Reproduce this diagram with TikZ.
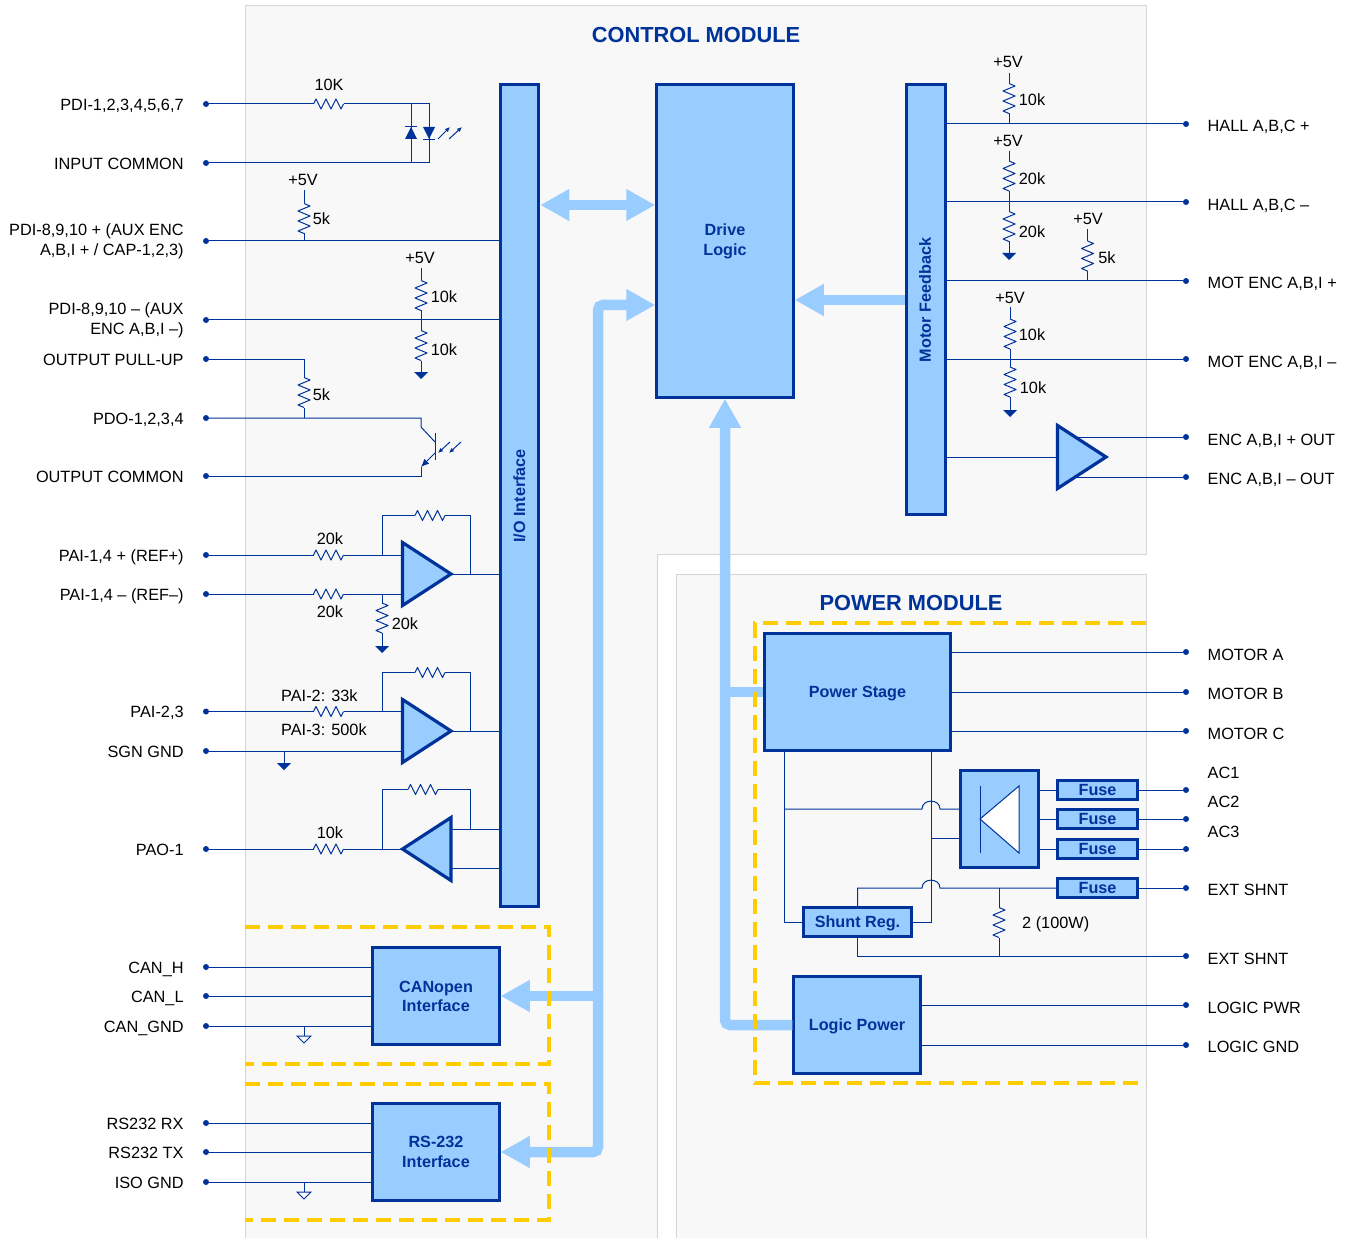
\documentclass[tikz,border=0pt]{standalone}
\usepackage{fontspec}
\setmainfont{Liberation Sans}
\usetikzlibrary{arrows.meta,shapes.geometric}
\definecolor{wireblue}{HTML}{003399}
\definecolor{busblue}{HTML}{99CCFF}
\definecolor{dashyellow}{HTML}{FFCC00}
\definecolor{modbg}{HTML}{F8F8F8}
\definecolor{modedge}{HTML}{D4D4D4}
\tikzset{
    wire/.style={draw=wireblue,line width=1pt},
    pin/.style={circle,fill=wireblue,inner sep=0pt,minimum size=6pt},
    val/.style={inner sep=0pt,yshift=-.3pt},
    pinlab/.style={val,anchor=mid east,yshift=-3.3pt},
    rpinlab/.style={val,anchor=mid west,yshift=-3.3pt},
    blockbox/.style={draw=wireblue,fill=busblue,line width=3pt,text=wireblue,font=\fontsize{16.2}{19.5}\selectfont\bfseries,align=center,inner sep=0pt},
    onebox/.style={text height=12.5pt,text depth=2.5pt},
    title/.style={text=wireblue,font=\fontsize{21.8}{26}\selectfont\bfseries,yshift=-.3pt},
    amp/.style={isosceles triangle,isosceles triangle stretches,draw=wireblue,fill=busblue,line width=3.2pt,inner sep=0pt,outer sep=0pt,minimum width=63pt,minimum height=48.5pt,anchor=apex},
    bus/.style={draw=busblue,line width=10.5pt,rounded corners=5pt},
    bigtip/.tip={Triangle[length=29pt,width=30pt]},
    dashbox/.style={draw=dashyellow,line width=3.1pt,dash pattern=on 15pt off 8pt},
    modarea/.style={fill=modbg,draw=modedge,line width=1pt},
    photon/.style={wire,-{Latex[length=5pt,width=4.5pt]}},
    resh/.pic={\draw[wire,line join=round] (-15,0) coordinate (-a) -- (-12.5,-5) -- (-7.5,5) -- (-2.5,-5) -- (2.5,5) -- (7.5,-5) -- (12.5,5) -- (15,0) coordinate (-b);},
    resv/.pic={\draw[wire,line join=round] (0,-15) coordinate (-a) -- (6,-12.5) -- (-6,-7.5) -- (6,-2.5) -- (-6,2.5) -- (6,7.5) -- (-6,12.5) -- (0,15) coordinate (-b);},
    gndf/.pic={\coordinate (-a) at (0,0); \fill[wireblue] (-7,0) -- (7,0) -- (0,7) -- cycle;},
    gndo/.pic={\coordinate (-a) at (0,0); \draw[wire] (-7,0) -- (7,0) -- (0,7) -- cycle;},
    diodeup/.pic={\fill[wireblue] (-6,6) -- (6,6) -- (0,-6) -- cycle; \draw[wire] (-6,-6) -- (6,-6);},
    diodedn/.pic={\fill[wireblue] (-6,-6) -- (6,-6) -- (0,6) -- cycle; \draw[wire] (-6,7) -- (6,7);},
}
\begin{document}
\begin{tikzpicture}[x=1pt,y=-1pt,every node/.append style={font=\fontsize{16.3}{19.5}\selectfont,text=black}]
    \useasboundingbox (0,0) rectangle (1351,1238);
    \fill[white] (0,0) rectangle (1351,1238);
    \draw[modarea] (245,1238) -- (245,6) -- (1146,6) -- (1146,554) -- (657,554) -- (657,1238);
    \draw[modarea] (676,1238) -- (676,574) -- (1146,574) -- (1146,1238);

    \node (ctltitle) at (696,34.5) [title] {CONTROL MODULE};
    \node (pwrtitle) at (911,602.5) [title] {POWER MODULE};

    % blocks
    \node (io) at (519.5,495.5) [blockbox,minimum width=38.5,minimum height=821.5] {};
    \node (iolab) at (519.5,496) [rotate=90,text=wireblue,font=\fontsize{16.2}{19.5}\selectfont\bfseries] {I/O Interface};
    \node (drive) at (725,241) [blockbox,minimum width=136.5,minimum height=312.5] {Drive\\[.6pt]Logic};
    \node (mf) at (926,299.5) [blockbox,minimum width=38.5,minimum height=429.5] {};
    \node (mflab) at (925,300) [rotate=90,text=wireblue,font=\fontsize{16.2}{19.5}\selectfont\bfseries] {Motor Feedback};
    \node (can) at (436,996) [blockbox,minimum width=126.5,minimum height=96.5] {CANopen\\[-.4pt]Interface};
    \node (rs) at (436,1152) [blockbox,minimum width=126.5,minimum height=96.5] {RS-232\\Interface};
    \node (power) at (857.5,692) [blockbox,onebox,minimum width=185.5,minimum height=116.5] {Power Stage};
    \node (logicp) at (857,1025) [blockbox,onebox,minimum width=126.5,minimum height=96.5] {Logic Power};
    \node (bridge) at (999.5,819) [blockbox,minimum width=77.5,minimum height=96.5] {};
    \node (fua) at (1097.5,790) [blockbox,onebox,minimum width=79.5,minimum height=19.5] {Fuse};
    \node (fub) at (1097.5,819) [blockbox,onebox,minimum width=79.5,minimum height=19.5] {Fuse};
    \node (fuc) at (1097.5,849) [blockbox,onebox,minimum width=79.5,minimum height=19.5] {Fuse};
    \node (fud) at (1097.5,888) [blockbox,onebox,minimum width=79.5,minimum height=19.5] {Fuse};
    \node (shunt) at (857.5,922) [blockbox,onebox,minimum width=107.5,minimum height=28.5] {Shunt Reg.};

    % buses
    \coordinate (busa) at (598,205);
    \coordinate (busb) at (598,305);
    \coordinate (busc) at (850,300);
    \draw[bus,{bigtip}-{bigtip}] (io.east |- busa) -- (drive.west |- busa);
    \draw[bus,{bigtip}-{bigtip}] (rs.east) -- (busb |- rs.east) -- (busb) -- (drive.west |- busb);
    \draw[bus,{bigtip}-] (can.east) -- (busb |- can.east);
    \draw[bus,{bigtip}-] (drive.east |- busc) -- (mf.west |- busc);
    \draw[bus,{bigtip}-] (drive.south) -- (drive.south |- logicp.west) -- (logicp.west);
    \draw[bus] (drive.south |- power.west) -- (power.west);

    % dashed groups
    \draw[dashbox] (245,927) -- (549,927) -- (549,1064) -- (245,1064);
    \draw[dashbox] (245,1084) -- (549,1084) -- (549,1220) -- (245,1220);
    \draw[dashbox] (1146,623) -- (755,623) -- (755,1083) -- (1146,1083);

    % left pins
    \foreach \nm/\yy/\txt in {pdia/104/{PDI-1,2,3,4,5,6,7},incom/163/INPUT COMMON,pullup/359/OUTPUT PULL-UP,pdo/418/{PDO-1,2,3,4},outcom/476/OUTPUT COMMON,paip/555/{PAI-1,4 + (REF+)},paim/594/{PAI-1,4 – (REF–)},paib/711.5/{PAI-2,3},sgn/751/SGN GND,pao/849/PAO-1,canh/967/CAN\_H,canl/996/CAN\_L,cang/1026/CAN\_GND,rsrx/1123/RS232 RX,rstx/1152/RS232 TX,isog/1182/ISO GND}{
        \node (\nm) at (206,\yy) [pin] {};
        \node (\nm lab) at (183.8,\yy) [pinlab] {\txt};
    }
    \node (pdib) at (206,241) [pin] {};
    \node (pdiblab) at (183.8,241) [val,anchor=east,align=right] {PDI-8,9,10 + (AUX ENC\\A,B,I + / CAP-1,2,3)};
    \node (pdic) at (206,320) [pin] {};
    \node (pdiclab) at (183.8,320) [val,anchor=east,align=right] {PDI-8,9,10 – (AUX\\ENC A,B,I –)};

    % right pins
    \foreach \nm/\yy/\ly/\txt in {hallp/124/125/{HALL A,B,C +},hallm/202/204/{HALL A,B,C –},mencp/281/282/{MOT ENC A,B,I +},mencm/359/361/{MOT ENC A,B,I –},encp/437/439/{ENC A,B,I + OUT},encm/477/478/{ENC A,B,I – OUT},mota/652/654/MOTOR A,motb/692/693/MOTOR B,motc/731/733/MOTOR C,aca/790/772/AC1,acb/819/801/AC2,acc/849/831/AC3,shnta/888/889/EXT SHNT,shntb/956/958/EXT SHNT,lpwr/1005/1007/LOGIC PWR,lgnd/1045/1046/LOGIC GND}{
        \node (\nm) at (1186,\yy) [pin] {};
        \node (\nm lab) at (1207.5,\ly) [rpinlab] {\txt};
    }

    % optocoupler in
    \coordinate (ledl) at (411,104);
    \coordinate (ledr) at (429,104);
    \pic (ra) at (328.5,104) {resh};
    \node (ratxt) at (329,85) [val] {10K};
    \draw[wire] (pdia) -- (ra-a) (ra-b) -- (ledr) -- (ledr |- incom) -- (incom);
    \draw[wire] (ledl) -- (ledl |- incom);
    \pic at (411,133) {diodeup};
    \pic at (429,133) {diodedn};
    \coordinate (lda) at (438,139);
    \coordinate (ldb) at (450,127);
    \coordinate (ldc) at (449,139);
    \coordinate (ldd) at (462,127);
    \draw[photon] (lda) -- (ldb);
    \draw[photon] (ldc) -- (ldd);

    % pull-ups on io side
    \pic (rb) at (304,218.5) {resv};
    \node (rbv) at (303,179.5) [val] {+5V};
    \node (rbtxt) at (321.5,218) [val] {5k};
    \coordinate (rbt) at (304,190);
    \draw[wire] (pdib) -- (pdib -| io.west);
    \draw[wire] (rbt) -- (rb-a) (rb-b) -- (rb-b |- pdib);

    \pic (rc) at (421,295.5) {resv};
    \pic (rd) at (421,345.5) {resv};
    \pic (gc) at (421,372) {gndf};
    \node (rcv) at (420,258) [val] {+5V};
    \node (rctxt) at (444,296) [val] {10k};
    \node (rdtxt) at (444,349) [val] {10k};
    \coordinate (rct) at (421,268);
    \draw[wire] (pdic) -- (pdic -| io.west);
    \draw[wire] (rct) -- (rc-a) (rc-b) -- (rd-a) (rd-b) -- (gc-a);

    % phototransistor
    \pic (re) at (304,392.5) {resv};
    \node (retxt) at (321.5,394) [val] {5k};
    \coordinate (qc) at (421,427);
    \coordinate (qb) at (435,442);
    \coordinate (qd) at (435,453);
    \coordinate (qe) at (421,467);
    \coordinate (qta) at (435,433);
    \coordinate (qtb) at (435,460);
    \coordinate (pha) at (450,442);
    \coordinate (phb) at (438,453);
    \coordinate (phc) at (461,442);
    \coordinate (phd) at (449,453);
    \draw[wire] (pullup) -- (pullup -| re-a) -- (re-a) (re-b) -- (re-b |- pdo);
    \draw[wire] (pdo) -- (pdo -| qc) -- (qc) -- (qb);
    \draw[wire] (qta) -- (qtb);
    \draw[wire,-{Latex[length=8pt,width=7pt]}] (qd) -- (qe);
    \draw[wire] (qe) -- (qe |- outcom) -- (outcom);
    \draw[photon] (pha) -- (phb);
    \draw[photon] (phc) -- (phd);

    % first amplifier
    \node (ampa) at (451,574) [amp] {};
    \pic (rf) at (328.5,555) {resh};
    \pic (rg) at (328.5,594) {resh};
    \pic (rh) at (430,515.5) {resh};
    \pic (ri) at (382,618) {resv};
    \pic (gi) at (382,646) {gndf};
    \node (rftxt) at (330,538) [val] {20k};
    \node (rgtxt) at (330,611) [val] {20k};
    \node (ritxt) at (405,623) [val] {20k};
    \coordinate (fba) at (382,555);
    \coordinate (fbb) at (470.5,574);
    \draw[wire] (paip) -- (rf-a) (rf-b) -- (paip -| ampa.lower side);
    \draw[wire] (paim) -- (rg-a) (rg-b) -- (paim -| ampa.lower side);
    \draw[wire] (fba) -- (fba |- rh-a) -- (rh-a) (rh-b) -- (fbb |- rh-b) -- (fbb);
    \draw[wire] (ampa.apex) -- (ampa.apex -| io.west);
    \draw[wire] (paim -| ri-a) -- (ri-a) (ri-b) -- (gi-a);

    % second amplifier
    \node (ampb) at (451,731) [amp] {};
    \pic (rj) at (328.5,711.5) {resh};
    \pic (rk) at (430,672.5) {resh};
    \pic (gk) at (284,763) {gndf};
    \node (rjtxt) at (281,695) [val,anchor=west] {PAI-2: 33k};
    \node (rjtxb) at (281,729) [val,anchor=west] {PAI-3: 500k};
    \coordinate (fbc) at (382,711.5);
    \coordinate (fbd) at (470.5,731);
    \draw[wire] (paib) -- (rj-a) (rj-b) -- (rj-b -| ampb.lower side);
    \draw[wire] (sgn) -- (sgn -| ampb.lower side);
    \draw[wire] (fbc) -- (fbc |- rk-a) -- (rk-a) (rk-b) -- (fbd |- rk-b) -- (fbd);
    \draw[wire] (ampb.apex) -- (ampb.apex -| io.west);
    \draw[wire] (gk-a |- sgn) -- (gk-a);

    % output amplifier
    \node (ampc) at (402.5,849) [amp,shape border rotate=180] {};
    \pic (rl) at (328.5,849) {resh};
    \pic (rm) at (423,789.5) {resh};
    \node (rltxt) at (330,832) [val] {10k};
    \coordinate (fbe) at (382,849);
    \coordinate (fbf) at (470.5,829);
    \coordinate (fbg) at (470.5,868);
    \draw[wire] (pao) -- (rl-a) (rl-b) -- (ampc.apex);
    \draw[wire] (fbe) -- (fbe |- rm-a) -- (rm-a) (rm-b) -- (fbf |- rm-b) -- (fbf);
    \draw[wire] (fbf -| ampc.lower side) -- (fbf -| io.west);
    \draw[wire] (fbg -| ampc.lower side) -- (fbg -| io.west);

    % can and rs232 wires
    \pic (gn) at (304,1036) {gndo};
    \pic (gp) at (304,1192) {gndo};
    \draw[wire] (canh) -- (canh -| can.west);
    \draw[wire] (canl) -- (canl -| can.west);
    \draw[wire] (cang) -- (cang -| can.west);
    \draw[wire] (gn-a |- cang) -- (gn-a);
    \draw[wire] (rsrx) -- (rsrx -| rs.west);
    \draw[wire] (rstx) -- (rstx -| rs.west);
    \draw[wire] (isog) -- (isog -| rs.west);
    \draw[wire] (gp-a |- isog) -- (gp-a);

    % hall and encoder inputs
    \pic (rq) at (1009,98.5) {resv};
    \node (rqv) at (1008,61.5) [val] {+5V};
    \node (rqtxt) at (1032,99.5) [val] {10k};
    \coordinate (rqt) at (1009,73);
    \draw[wire] (mf.east |- hallp) -- (hallp);
    \draw[wire] (rqt) -- (rq-a) (rq-b) -- (rq-b |- hallp);

    \pic (rr) at (1009,176) {resv};
    \pic (rs2) at (1009,226.5) {resv};
    \pic (gs) at (1009,253) {gndf};
    \node (rrv) at (1008,140.5) [val] {+5V};
    \node (rrtxt) at (1032,178) [val] {20k};
    \node (rstxt) at (1032,231.5) [val] {20k};
    \coordinate (rrt) at (1009,151);
    \draw[wire] (mf.east |- hallm) -- (hallm);
    \draw[wire] (rrt) -- (rr-a) (rr-b) -- (rs2-a) (rs2-b) -- (gs-a);

    \pic (rt) at (1087.5,256) {resv};
    \node (rtv) at (1088,218.5) [val] {+5V};
    \node (rttxt) at (1107,257) [val] {5k};
    \coordinate (rtt) at (1087.5,229);
    \draw[wire] (mf.east |- mencp) -- (mencp);
    \draw[wire] (rtt) -- (rt-a) (rt-b) -- (rt-b |- mencp);

    \pic (ru) at (1010,334) {resv};
    \pic (rv) at (1010,382) {resv};
    \pic (gv) at (1010,410) {gndf};
    \node (ruv) at (1010,297.5) [val] {+5V};
    \node (rutxt) at (1032,334.5) [val] {10k};
    \node (rvtxt) at (1033,387.5) [val] {10k};
    \coordinate (rut) at (1010,307);
    \draw[wire] (mf.east |- mencm) -- (mencm);
    \draw[wire] (rut) -- (ru-a) (ru-b) -- (rv-a) (rv-b) -- (gv-a);

    % output buffer
    \coordinate (bufa) at (1070,437);
    \coordinate (bufb) at (1070,477);
    \draw[wire] (bufa) -- (encp);
    \draw[wire] (bufb) -- (encm);
    \node (ampd) at (1106,457) [amp] {};
    \draw[wire] (mf.east |- ampd.apex) -- (ampd.lower side);

    % power stage
    \draw[wire] (power.east |- mota) -- (mota);
    \draw[wire] (power.east |- motb) -- (motb);
    \draw[wire] (power.east |- motc) -- (motc);
    \coordinate (shl) at (784,922);
    \coordinate (shr) at (931,922);
    \coordinate (brj) at (931,838.5);
    \draw[wire] (shl |- power.south) -- (shl) -- (shunt.west);
    \draw[wire] (shr |- power.south) -- (shr) -- (shunt.east);
    \draw[wire] (784,809) -- (922,809) .. controls (922,798.5) and (940,798.5) .. (940,809) -- (bridge.west |- 940,809);
    \draw[wire] (brj) -- (bridge.west |- brj);

    % rectifier symbol
    \coordinate (brc) at (980,819);
    \coordinate (brd) at (1019,786);
    \coordinate (bre) at (1019,853);
    \coordinate (brf) at (980,786);
    \coordinate (brg) at (980,853);
    \draw[wire,fill=white] (brc) -- (brd) -- (bre) -- cycle;
    \draw[wire] (brf) -- (brg);

    % fuses
    \draw[wire] (bridge.east |- fua.west) -- (fua.west) (fua.east) -- (aca);
    \draw[wire] (bridge.east |- fub.west) -- (fub.west) (fub.east) -- (acb);
    \draw[wire] (bridge.east |- fuc.west) -- (fuc.west) (fuc.east) -- (acc);
    \draw[wire] (fud.east) -- (shnta);

    % shunt
    \coordinate (sha) at (857.5,888);
    \pic (rw) at (999,922.5) {resv};
    \node (rwtxt) at (1022,924) [val,anchor=west] {2 (100W)};
    \draw[wire] (shunt.north) -- (sha) -- (922,888) .. controls (922,877.5) and (940,877.5) .. (940,888) -- (fud.west);
    \draw[wire] (shunt.south) -- (shunt.south |- shntb) -- (shntb);
    \draw[wire] (rw-a |- sha) -- (rw-a) (rw-b) -- (rw-b |- shntb);

    % logic power
    \draw[wire] (logicp.east |- lpwr) -- (lpwr);
    \draw[wire] (logicp.east |- lgnd) -- (lgnd);
\end{tikzpicture}
\end{document}
